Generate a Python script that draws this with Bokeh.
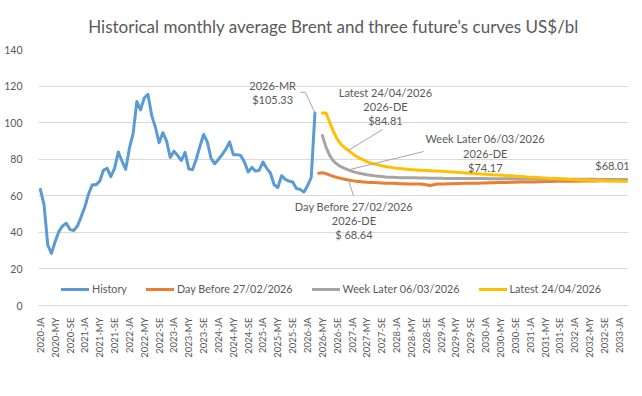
import math
from bokeh.plotting import figure
from bokeh.models import Range1d, FixedTicker, Label
from bokeh.embed import file_html
from bokeh.resources import INLINE

# ---------------- data ----------------
MONTH_CODES = ["JA", "FE", "MR", "AP", "MY", "JN", "JL", "AU", "SE", "OC", "NO", "DE"]
months = [f"{yr}-{m}" for yr in range(2020, 2034) for m in MONTH_CODES][:159]  # 2020-JA .. 2033-MR

y_ticks = [0, 20, 40, 60, 80, 100, 120, 140]

# Historical monthly average Brent, 2020-JA .. 2026-MR
history = [
    63.5, 55.0, 33.0, 28.5, 35.0, 40.5, 43.5, 45.0, 41.5, 41.0, 43.5, 48.5,
    54.0, 61.0, 66.0, 66.0, 68.0, 74.0, 75.0, 70.5, 75.0, 84.0, 79.0, 74.5,
    86.0, 94.0, 111.5, 107.0, 113.5, 115.5, 104.0, 97.5, 89.0, 94.5, 90.0, 81.0,
    84.4, 82.0, 79.3, 83.8, 74.7, 74.3, 80.0, 87.0, 93.5, 89.5, 80.5, 77.5,
    80.0, 82.5, 85.5, 89.5, 82.5, 82.5, 82.0, 78.5, 73.0, 75.5, 73.5, 74.0,
    78.5, 75.0, 72.5, 66.0, 64.5, 71.0, 69.0, 68.0, 67.5, 64.0, 63.5, 62.0,
    65.5, 70.0, 105.33,
]
history_start = "2020-JA"

# Futures curve of 27/02/2026, 2026-AP .. 2033-MR
day_before = [
    72.3, 72.6, 72.1, 71.3, 70.6, 70.0, 69.5, 69.0, 68.64,
    68.3, 68.0, 67.8, 67.6, 67.4, 67.3, 67.2, 67.1, 67.0, 66.9, 66.8, 66.8,
    66.7, 66.6, 66.6, 66.5, 66.5, 66.4, 66.4, 66.3, 66.0, 65.6, 66.0, 66.4,
    66.5, 66.5, 66.6, 66.6, 66.7, 66.7, 66.8, 66.8, 66.8, 66.9, 66.9, 67.0,
    67.0, 67.1, 67.1, 67.2, 67.2, 67.3, 67.3, 67.4, 67.4, 67.5, 67.5, 67.6,
    67.6, 67.6, 67.7, 67.7, 67.8, 67.8, 67.8, 67.9, 67.9, 67.9, 68.0, 68.0,
    68.0, 68.0, 68.1, 68.1, 68.1, 68.1, 68.1, 68.2, 68.2, 68.2, 68.2, 68.2,
    68.2, 68.2, 68.2,
]
day_before_start = "2026-AP"

# Futures curve of 06/03/2026, 2026-MY .. 2033-MR
week_later = [
    93.0, 86.5, 82.0, 79.0, 77.2, 75.9, 75.0, 74.17,
    73.4, 72.8, 72.3, 71.9, 71.5, 71.2, 70.9, 70.7, 70.5, 70.3, 70.2, 70.1,
    70.0, 69.9, 69.9, 69.8, 69.8, 69.8, 69.7, 69.7, 69.7, 69.6, 69.6, 69.6,
    69.6, 69.5, 69.5, 69.5, 69.5, 69.5, 69.4, 69.4, 69.4, 69.4, 69.4, 69.4,
    69.4, 69.3, 69.3, 69.3, 69.3, 69.3, 69.3, 69.3, 69.2, 69.2, 69.2, 69.2,
    69.2, 69.2, 69.2, 69.1, 69.1, 69.1, 69.1, 69.1, 69.1, 69.1, 69.0, 69.0,
    69.0, 69.0, 69.0, 69.0, 69.0, 69.0, 68.9, 68.9, 68.9, 68.9, 68.9, 68.9,
    68.9, 68.9, 68.9,
]
week_later_start = "2026-MY"

# Futures curve of 24/04/2026, 2026-MY .. 2033-MR
latest = [
    105.3, 105.3, 100.0, 95.0, 91.0, 88.2, 86.3, 84.81,
    83.2, 81.8, 80.6, 79.6, 78.7, 78.0, 77.4, 76.9, 76.4, 76.0, 75.7, 75.4,
    75.1, 74.9, 74.7, 74.5, 74.3, 74.2, 74.0, 73.9, 73.8, 73.7, 73.6, 73.5,
    73.4, 73.3, 73.1, 73.0, 72.9, 72.7, 72.6, 72.5, 72.3, 72.2, 72.1, 71.9,
    71.8, 71.7, 71.5, 71.4, 71.3, 71.1, 71.0, 70.9, 70.7, 70.6, 70.5, 70.3,
    70.2, 70.1, 70.0, 69.8, 69.7, 69.6, 69.5, 69.4, 69.3, 69.2, 69.0, 68.9,
    68.8, 68.7, 68.7, 68.6, 68.5, 68.4, 68.4, 68.3, 68.2, 68.2, 68.1, 68.1,
    68.1, 68.0, 68.01,
]
latest_start = "2026-MY"

series = [
    ("History", history, history_start, "#5B9BD5"),
    ("Day Before 27/02/2026", day_before, day_before_start, "#ED7D31"),
    ("Week Later 06/03/2026", week_later, week_later_start, "#A5A5A5"),
    ("Latest 24/04/2026", latest, latest_start, "#FFC000"),
]

FONT = "Lato"
TXT = "#595959"
GRID = "#d9d9d9"

def xs_for(vals, start):
    s = months.index(start)
    return list(range(s, s + len(vals)))

def value_at(vals, start, month):
    return vals[months.index(month) - months.index(start)]

# ---------------- figure ----------------
p = figure(width=640, height=392, output_backend="svg", toolbar_location=None,
           x_range=Range1d(-0.5, len(months) - 0.5), y_range=Range1d(0, 140),
           min_border_left=38, min_border_right=12, min_border_top=49, min_border_bottom=87)
p.outline_line_color = None
p.background_fill_color = "white"
p.border_fill_color = "white"

p.title.text = "Historical monthly average Brent and three future's curves US$/bl"
p.title.align = "center"
p.title.text_font = FONT
p.title.text_font_size = "17px"
p.title.text_font_style = "normal"
p.title.text_color = TXT
p.title.standoff = 26

# axes
p.yaxis.ticker = FixedTicker(ticks=y_ticks)
p.yaxis.axis_line_color = None
p.yaxis.major_tick_line_color = None
p.yaxis.minor_tick_line_color = None
p.yaxis.major_label_standoff = 10
p.yaxis.major_label_text_font = FONT
p.yaxis.major_label_text_font_size = "10.5px"
p.yaxis.major_label_text_color = TXT

tick_idx = list(range(0, len(months), 4))
p.xaxis.ticker = FixedTicker(ticks=tick_idx)
p.xaxis.major_label_overrides = {i: months[i] for i in tick_idx}
p.xaxis.major_label_orientation = math.pi / 2
p.xaxis.axis_line_color = GRID
p.xaxis.major_tick_line_color = None
p.xaxis.minor_tick_line_color = None
p.xaxis.major_label_standoff = 6
p.xaxis.major_label_text_font = FONT
p.xaxis.major_label_text_font_size = "9.5px"
p.xaxis.major_label_text_color = TXT

p.xgrid.grid_line_color = None
p.ygrid.grid_line_color = GRID
p.ygrid.grid_line_width = 1

for name, vals, start, color in series:
    p.line(xs_for(vals, start), vals, line_width=3, color=color, legend_label=name,
           line_join="round", line_cap="round")

# ---------------- callouts ----------------
LEADER = "#a6a6a6"
callouts = [
    # text lines, text centre (x, y of first line), leader start points, target series, target month
    (["2026-MR", "$105.33"], (62.6, 120.3), [(70.1, 116.6), (71.4, 116.6)], history, history_start, "2026-MR"),
    (["Latest 24/04/2026", "2026-DE", "$84.81"], (93.0, 116.6), [(92.2, 96.2)], latest, latest_start, "2026-DE"),
    (["Week Later 06/03/2026", "2026-DE", "$74.17"], (119.9, 91.1), [(103.3, 84.2)], week_later, week_later_start, "2026-DE"),
    (["Day Before 27/02/2026", "2026-DE", "$ 68.64"], (84.5, 54.3), [(84.4, 60.1)], day_before, day_before_start, "2026-DE"),
]
for lines, (tx, ty), lead, vals, start, month in callouts:
    for k, t in enumerate(lines):
        p.add_layout(Label(x=tx, y=ty, y_offset=-14.2 * k, text=t, text_align="center",
                           text_baseline="middle", text_font=FONT, text_font_size="11px",
                           text_color=TXT))
    px = [pt[0] for pt in lead] + [months.index(month)]
    py = [pt[1] for pt in lead] + [value_at(vals, start, month)]
    p.line(px, py, line_width=1, color=LEADER)

# end-of-curve value, placed in screen units (relative to the plot frame)
p.add_layout(Label(x=574, y=140, x_units="screen", y_units="screen",
                   text="$" + format(latest[-1], ".2f"),
                   text_align="center", text_baseline="middle", text_font=FONT,
                   text_font_size="11px", text_color=TXT))

# ---------------- legend ----------------
lg = p.legend[0]
lg.orientation = "horizontal"
lg.location = (23, 10)
lg.background_fill_alpha = 0
lg.border_line_color = None
lg.padding = 0
lg.margin = 0
lg.spacing = 19
lg.glyph_width = 28
lg.glyph_height = 12
lg.label_height = 12
lg.label_standoff = 3
lg.label_text_font = FONT
lg.label_text_font_size = "10.8px"
lg.label_text_color = TXT

open("out.html", "w").write(file_html(p, INLINE))
